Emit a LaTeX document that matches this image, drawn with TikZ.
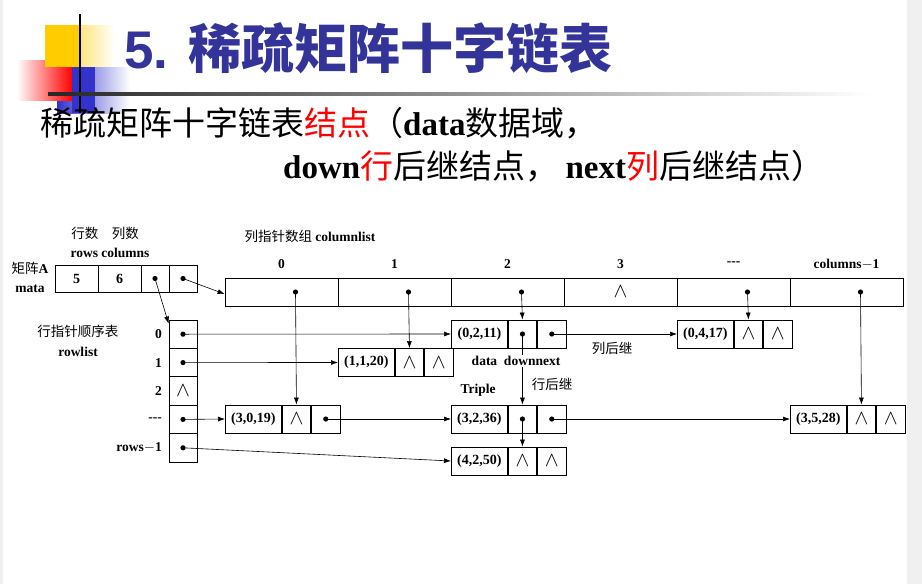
\documentclass[tikz,border=0pt]{standalone}
\usepackage{fontspec}
\setmainfont{Liberation Serif}
\newfontfamily\cjk{Noto Sans CJK SC}
\newfontfamily\cjkb{Noto Sans CJK SC Bold}
\newfontfamily\hd{Liberation Sans}
\usetikzlibrary{arrows.meta}
\definecolor{ttl}{RGB}{51,51,153}
\definecolor{yel}{RGB}{255,204,0}
\definecolor{blu}{RGB}{51,51,204}
\newcommand{\rb}[1]{{\rmfamily\bfseries #1}}
\begin{document}
\begin{tikzpicture}[x=1pt,y=-1pt,
 cell/.style={draw,thick,minimum height=28pt,inner sep=0pt,font=\bfseries\fontsize{14}{14}\selectfont},
 arr/.style={-{Latex[length=7pt,width=5pt]},line width=0.6pt},
 lab/.style={font=\bfseries\fontsize{13.5}{14}\selectfont,inner sep=0pt},
 clab/.style={font=\cjk\fontsize{13.5}{14}\selectfont,inner sep=0pt},
 wdg/.style={font=\fontsize{20}{20}\selectfont,inner sep=0pt}]
\useasboundingbox (0,0) rectangle (922,584);
\fill[gray!12] (907,0) rectangle (922,584);
\fill[gray!12] (0,0) rectangle (3,584);
% decoration
\shade[left color=yel,right color=white] (45,25) rectangle (115,67);
\shade[left color=blu,right color=white] (57,67) rectangle (130,113);
\shade[left color=white,right color=red] (17,60) rectangle (72,100);
\fill[yel] (45,25) rectangle (80,67);
\fill[blu] (72,67) rectangle (95,113);
\draw[line width=2.5pt] (80,14) -- (80,113);
\shade[left color=black!85,right color=white] (48,92.5) rectangle (870,95.5);
\node[anchor=base west,inner sep=0,text=ttl,font=\bfseries\fontsize{53}{53}\selectfont] (title) at (124,68) {\hd 5. \cjkb 稀疏矩阵十字链表};
\node[anchor=base west,inner sep=0,font=\fontsize{33}{33}\selectfont] (sub1) at (40,135) {\cjk 稀疏矩阵十字链表\textcolor{red}{结点}（\rb{data}数据域，};
\node[anchor=base west,inner sep=0,font=\fontsize{33}{33}\selectfont] (sub2) at (283,178) {\rb{down}\cjk\textcolor{red}{行}后继结点， \rb{next}\textcolor{red}{列}后继结点）};
% mata
\node[cell,minimum width=43pt,minimum height=27pt] (m1) at (76.5,278.5) {5};
\node[cell,minimum width=43pt,minimum height=27pt] (m2) at (119.5,278.5) {6};
\node[cell,minimum width=28pt,minimum height=27pt] (m3) at (155,278.5) {};
\node[cell,minimum width=28pt,minimum height=27pt] (m4) at (183,278.5) {};
\node[clab] (t1) at (105,233) {行数\quad 列数};
\node[lab] (t2) at (110,253) {rows columns};
\node[clab] (t3) at (30,268) {矩阵\rb{A}};
\node[lab] (t4) at (30,289) {mata};
\node[clab] (t5) at (310,236) {列指针数组 \rb{columnlist}};
% columnlist
\foreach \i/\l in {0/0,1/1,2/2,3/3,4/{-{}-{}-},5/columns$-$1}{
 \node[cell,minimum width=113pt] (c\i) at (281.5+113*\i,292) {};
 \node[lab] (cl\i) at (281.5+113*\i,264) {\l};
}
\node[wdg] (c3w) at (c3) {$\wedge$};
% rowlist
\foreach \i/\l in {0/0,1/1,2/2,3/{-{}-{}-},4/rows$-$1}{
 \node[cell,minimum width=28pt,minimum height=28.4pt] (r\i) at (183,334.2+28.4*\i) {};
 \node[lab,anchor=east] (rl\i) at (162,334.2+28.4*\i) {\l};
}
\node[wdg] (r2w) at (r2) {$\wedge$};
\node[clab] (rt1) at (78,331) {行指针顺序表};
\node[lab] (rt2) at (78,352) {rowlist};
% triples
\newcommand{\trip}[4]{%
 \node[cell,minimum width=56pt,anchor=west] (#1d) at (#2,#3) {#4};
 \node[cell,minimum width=28.5pt,anchor=west] (#1a) at (#1d.east) {};
 \node[cell,minimum width=28.5pt,anchor=west] (#1b) at (#1a.east) {};}
\trip{A}{451}{334}{(0,2,11)}
\trip{B}{338}{362.5}{(1,1,20)}
\trip{C}{677}{334}{(0,4,17)}
\trip{D}{225}{419}{(3,0,19)}
\trip{E}{451}{419}{(3,2,36)}
\trip{F}{790}{419}{(3,5,28)}
\trip{G}{451}{461}{(4,2,50)}
\foreach \n in {Ba,Bb,Ca,Cb,Da,Fa,Fb,Ga,Gb}{\node[wdg] at (\n) {$\wedge$};}
% dots
\foreach \p in {m3,m4,r0,r1,r3,r4,Aa,Ab,Db,Ea,Eb}{\fill (\p) circle (2.6pt);}
\foreach \i in {0,1,2,4,5}{\coordinate (cd\i) at ([xshift=14pt]c\i.center); \fill (cd\i) circle (2.6pt);}
% arrows
\draw[arr] (m3.center) -- ([yshift=-4pt]r0.north west);
\draw[arr] (m4.center) -- ([yshift=-2pt]c0.west);
\draw[arr] (r0.center) -- (Ad.west);
\draw[arr] (r1.center) -- (Bd.west);
\draw[arr] (r3.center) -- (Dd.west);
\draw[arr] (r4.center) -- (Gd.west);
\draw[arr] (cd0) -- (Da.north);
\draw[arr] (cd1) -- (Ba.north);
\draw[arr] (cd2) -- (Aa.north);
\draw[arr] (cd4) -- (Ca.north);
\draw[arr] (cd5) -- (Fa.north);
\draw[arr] (Aa.center) -- (Ea.north);
\draw[arr] (Ab.center) -- (Cd.west);
\draw[arr] (Db.center) -- (Ed.west);
\draw[arr] (Ea.center) -- (Ga.north);
\draw[arr] (Eb.center) -- (Fd.west);
% labels
\node[lab,fill=white,inner sep=1pt] (ld) at (516,361) {data\ \ downnext};
\node[clab] (lc) at (612,348) {列后继};
\node[clab] (lr) at (552,384) {行后继};
\node[lab] (lt) at (478,390) {Triple};
\end{tikzpicture}
\end{document}
